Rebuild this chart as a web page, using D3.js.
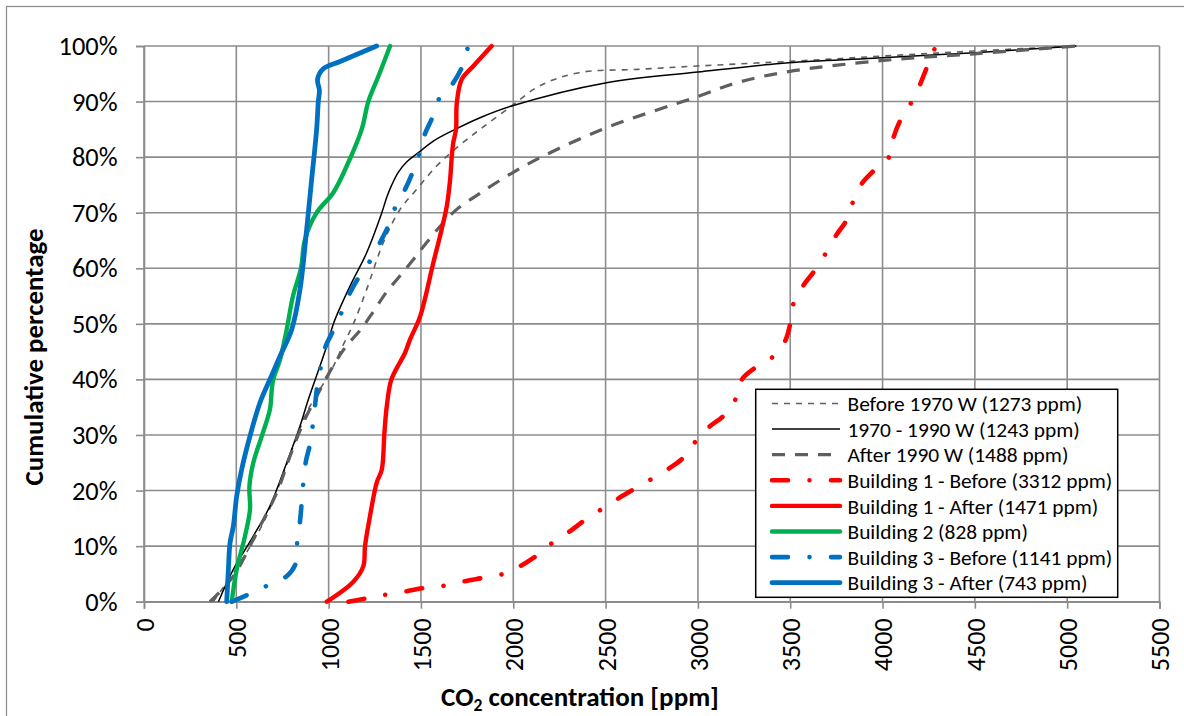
<!DOCTYPE html>
<html><head><meta charset="utf-8">
<script src="https://cdn.jsdelivr.net/npm/d3@7"></script>
<style>
body{margin:0;background:#fff}
svg{display:block}
text{font-family:Carlito,Lato,"Liberation Sans",sans-serif;fill:#000}
</style>
</head><body>
<svg id="chart" width="1184" height="716"></svg>
<script>
// ---------- data ----------
const xTickValues = [0,500,1000,1500,2000,2500,3000,3500,4000,4500,5000,5500];
const yTickValues = [0,10,20,30,40,50,60,70,80,90,100];
const xTitle = "CO";
const xTitleSub = "2";
const xTitleRest = " concentration [ppm]";
const yTitle = "Cumulative percentage";
const seriesLabels = [
  "Before 1970 W (1273 ppm)",
  "1970 - 1990 W (1243 ppm)",
  "After 1990 W (1488 ppm)",
  "Building 1 - Before (3312 ppm)",
  "Building 1 - After (1471 ppm)",
  "Building 2 (828 ppm)",
  "Building 3 - Before (1141 ppm)",
  "Building 3 - After (743 ppm)"
];
// [CO2 ppm, cumulative %]
const before1970 = [[375,0],[520,7],[646,14.2],[737,21.4],[809,28],[881,34],[940,37.5],[1017,41.8],[1080,46.3],[1134,50],[1206,56.2],[1296,64.6],[1387,70.6],[1477,74.2],[1585,78.4],[1694,81.7],[1820,85],[1991,89.2],[2141,92.8],[2356,95.2],[2677,95.8],[2998,96.4],[3533,97.3],[4005,98.2],[4498,99.1],[5050,100]];
const w1970to1990 = [[403,0],[484,5.8],[592,11.8],[682,17.2],[773,25],[845,31.6],[890,36.4],[953,42.4],[990,46],[1028,50.2],[1116,56.8],[1206,62.8],[1288,70],[1314,72.7],[1342,75],[1378,77.3],[1425,79.2],[1486,80.8],[1567,82.9],[1685,85],[1820,87.1],[1991,89.2],[2505,93.4],[2998,95.3],[3491,97],[3950,97.8],[4500,98.8],[5050,100]];
const after1990 = [[357,0],[484,4.6],[610,12.4],[719,19.6],[791,26.2],[863,32.2],[920,36],[975,39.5],[1035,43],[1100,46.2],[1170,48.8],[1242,52.2],[1315,55.8],[1378,58.3],[1450,61.2],[1530,64.6],[1621,68.2],[1694,70.6],[1820,73.5],[1991,77.1],[2163,80.2],[2505,85.3],[2998,90.9],[3212,93.4],[3491,95.4],[4005,97.4],[4498,98.6],[5050,100]];
const b1Before = [[1107,0],[1206,0.6],[1315,1.3],[1423,1.9],[1522,2.5],[1630,2.9],[1739,3.7],[1838,4.3],[1946,5],[2037,6.4],[2127,8.3],[2212,10.6],[2308,12.7],[2380,14.5],[2476,16.6],[2575,18.7],[2651,20.2],[2750,22.1],[2849,24.1],[2921,25.9],[2989,28.9],[3066,31.6],[3138,33.4],[3205,36.5],[3238,40],[3310,42.1],[3404,44],[3472,46.9],[3499,49.9],[3517,53.6],[3571,56.9],[3626,59.3],[3689,62.5],[3752,66.1],[3802,68.5],[3838,71.8],[3887,75.2],[3951,77.5],[4033,79.9],[4059,83.5],[4090,86.2],[4150,89.5],[4198,92.7],[4236,95.8],[4279,99.2],[4285,100]];
const b1After = [[990,0],[1134,3.6],[1188,6.4],[1197,10],[1224,15.4],[1260,21.4],[1288,23.8],[1302,30.4],[1315,35.2],[1340,40],[1414,44.8],[1441,47.2],[1495,51.3],[1567,61],[1612,67],[1640,71.2],[1658,76],[1667,80.1],[1675,82.6],[1690,85],[1694,89.7],[1721,94],[1784,96.4],[1883,100]];
const b2 = [[475,0],[502,5.8],[547,11.8],[574,16.6],[571,20.8],[592,25],[638,29.8],[682,34.6],[692,38.2],[700,40],[737,43.6],[773,49],[807,55],[850,60],[872,65.2],[935,70],[1025,73.6],[1098,78.4],[1179,85],[1215,90],[1269,94.5],[1333,100]];
const b3Before = [[475,0],[565,1.3],[668,2.9],[773,4.6],[823,7],[830,10.9],[845,14.5],[854,17.8],[863,21.4],[877,25.3],[899,28.3],[914,31.7],[926,35.2],[937,38.4],[957,42.2],[982,45.8],[1025,48.8],[1071,52.1],[1116,55.6],[1160,58.2],[1224,61.3],[1278,64.6],[1323,67.6],[1360,70.9],[1414,74.2],[1450,76.9],[1490,80.6],[1522,84.2],[1560,87],[1598,90.5],[1667,93],[1728,96.6],[1755,100]];
const b3After = [[448,0],[457,5.8],[466,10.6],[484,13.6],[502,19],[529,23.8],[574,29.8],[628,35.8],[682,40],[737,44.2],[800,49],[845,56.2],[881,67],[908,76],[935,85],[944,90],[950,92],[940,94],[971,95.9],[1062,97.2],[1260,100]];

const seriesData = [before1970, w1970to1990, after1990, b1Before, b1After, b2, b3Before, b3After];
const seriesStyles = [
  {color:"#5f5f5f", width:1.6, dash:"6,6", cap:"butt"},
  {color:"#000000", width:1.5, dash:null, cap:"butt"},
  {color:"#5f5f5f", width:3.2, dash:"13,10", cap:"butt"},
  {color:"#ff0000", width:4.6, dash:"16,21.5,0.01,21.5", cap:"round"},
  {color:"#ff0000", width:4.4, dash:null, cap:"round"},
  {color:"#00b050", width:4.4, dash:null, cap:"round"},
  {color:"#0070c0", width:4.6, dash:"16,21.5,0.01,21.5", cap:"round"},
  {color:"#0070c0", width:4.8, dash:null, cap:"round"}
];

// ---------- layout ----------
const svg = d3.select("#chart");
const x = d3.scaleLinear().domain([0,5500]).range([144,1159.5]);
const y = d3.scaleLinear().domain([0,100]).range([601.7,46]);
const gridColor = "#8c8c8c";

function fit(sel, target){
  const n = sel.node();
  const L = n.getComputedTextLength();
  const fs = parseFloat(sel.attr("font-size"));
  const nf = fs*target/L;
  sel.attr("font-size", nf);
  return nf;
}

// outer frame
svg.append("rect").attr("x",6.5).attr("y",6.5).attr("width",1300).attr("height",900)
  .attr("fill","#fff").attr("stroke","#8c8c8c").attr("stroke-width",1.2);

// gridlines
svg.append("g").selectAll("line").data(yTickValues).join("line")
  .attr("x1",x(0)).attr("x2",x(5500)).attr("y1",d=>y(d)).attr("y2",d=>y(d))
  .attr("stroke",gridColor).attr("stroke-width",1.6);
svg.append("g").selectAll("line").data(xTickValues).join("line")
  .attr("x1",d=>x(d)).attr("x2",d=>x(d)).attr("y1",y(100)).attr("y2",y(0))
  .attr("stroke",gridColor).attr("stroke-width",1.6);

// y axis
const yAxisG = svg.append("g").attr("transform",`translate(${x(0)},0)`)
  .call(d3.axisLeft(y).tickValues(yTickValues).tickFormat(d=>d+"%").tickSize(8).tickPadding(18.5));
yAxisG.select(".domain").attr("stroke",gridColor).attr("stroke-width",1.6);
yAxisG.selectAll(".tick line").attr("stroke",gridColor).attr("stroke-width",1.6);
yAxisG.attr("font-family",null).attr("font-size",null);
yAxisG.selectAll("text").style("font-family","Carlito,Lato,sans-serif").attr("fill","#000").attr("font-size",20);
const ySz = fit(yAxisG.selectAll("text").filter(d=>d===100), 59);
yAxisG.selectAll("text").attr("font-size",ySz);

// x axis
const xAxisG = svg.append("g").attr("transform",`translate(0,${y(0)})`)
  .call(d3.axisBottom(x).tickValues(xTickValues).tickFormat(d3.format("d")).tickSize(7));
xAxisG.select(".domain").attr("stroke",gridColor).attr("stroke-width",1.6);
xAxisG.selectAll(".tick line").attr("stroke",gridColor).attr("stroke-width",1.6);
xAxisG.attr("font-family",null).attr("font-size",null);
xAxisG.selectAll("text").style("font-family","Carlito,Lato,sans-serif").attr("fill","#000")
  .attr("transform","rotate(-90)").attr("text-anchor","end").attr("x",-16.5).attr("y",0).attr("dy","0.36em")
  .attr("font-size",20);
const xSz = fit(xAxisG.selectAll("text").filter(d=>d===1000), 53);
xAxisG.selectAll("text").attr("font-size",xSz);

// axis titles
const yt = svg.append("text").attr("transform","translate(43,357) rotate(-90)")
  .attr("text-anchor","middle").attr("font-weight","bold").attr("font-size",22).text(yTitle);
fit(yt, 257);
const xt = svg.append("text").attr("x",580).attr("y",706).attr("text-anchor","middle")
  .attr("font-weight","bold").attr("font-size",22);
xt.append("tspan").text(xTitle);
xt.append("tspan").attr("font-size","0.65em").attr("dy","0.28em").text(xTitleSub);
xt.append("tspan").attr("dy","-0.18em").text(xTitleRest);
fit(xt, 278);

// series
const line = d3.line().x(d=>x(d[0])).y(d=>y(d[1])).curve(d3.curveCatmullRom.alpha(0.5));
svg.append("g").selectAll("path").data(seriesData).join("path")
  .attr("d",d=>line(d)).attr("fill","none")
  .attr("stroke",(d,i)=>seriesStyles[i].color)
  .attr("stroke-width",(d,i)=>seriesStyles[i].width)
  .attr("stroke-dasharray",(d,i)=>seriesStyles[i].dash)
  .attr("stroke-linecap",(d,i)=>seriesStyles[i].cap)
  .attr("stroke-linejoin","round");

// legend
const lg = svg.append("g");
lg.append("rect").attr("x",755.7).attr("y",389.3).attr("width",362).attr("height",208)
  .attr("fill","#fff").attr("stroke","#000").attr("stroke-width",1.5);
const rowY = i => 403.5 + i*25.6;
const items = lg.selectAll("g.item").data(seriesLabels).join("g").attr("class","item");
items.append("line").attr("x1",772).attr("x2",840).attr("y1",(d,i)=>rowY(i)).attr("y2",(d,i)=>rowY(i))
  .attr("stroke",(d,i)=>seriesStyles[i].color)
  .attr("stroke-width",(d,i)=>seriesStyles[i].width)
  .attr("stroke-dasharray",(d,i)=>seriesStyles[i].dash)
  .attr("stroke-linecap",(d,i)=>seriesStyles[i].cap);
const lt = items.append("text").attr("x",847.5).attr("y",(d,i)=>rowY(i)).attr("dy","0.36em")
  .attr("font-size",18).text(d=>d);
const lsz = fit(lt.filter((d,i)=>i===3), 265);
lt.attr("font-size",lsz);
</script>
</body></html>
